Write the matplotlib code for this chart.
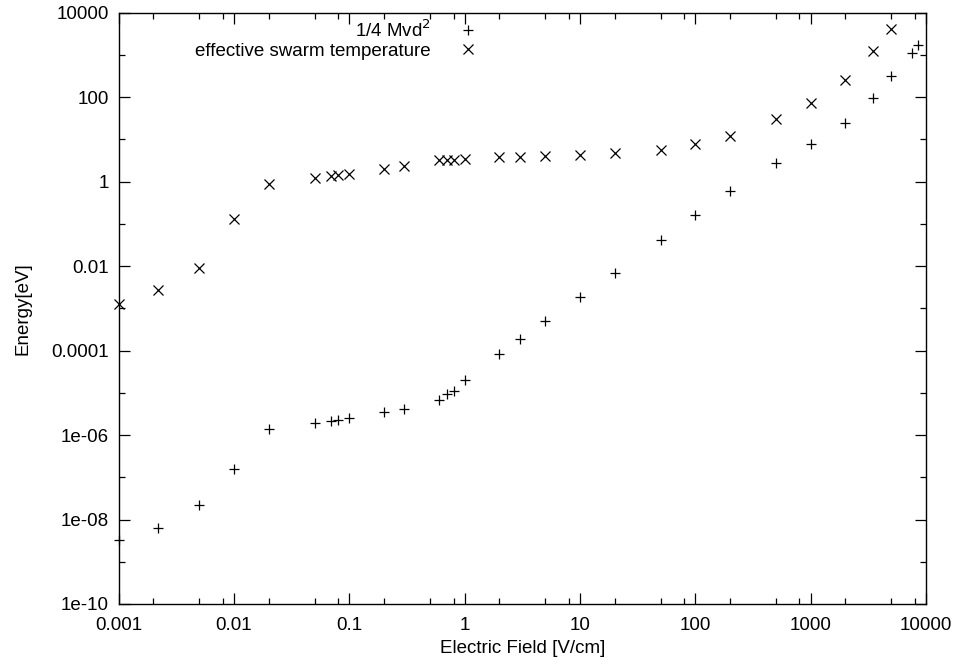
import numpy as np
from matplotlib import pyplot as plt
from matplotlib.ticker import FixedLocator, NullFormatter

plt.rcParams['font.family'] = ['Liberation Sans', 'DejaVu Sans']

# electric field values [V/cm]
field_t = [0.001, 0.0022, 0.005, 0.01, 0.02, 0.05, 0.07, 0.08, 0.1, 0.2, 0.3,
           0.6, 0.7, 0.8, 1, 2, 3, 5, 10, 20, 50, 100, 200, 500, 1000, 2000,
           3500, 5000]
# effective swarm temperature [eV]
temp = [1.26e-3, 2.7e-3, 8.9e-3, 0.13, 0.9, 1.2, 1.34, 1.4, 1.5, 2.0, 2.3,
        3.2, 3.2, 3.3, 3.5, 3.8, 3.9, 4.1, 4.3, 4.8, 5.7, 7.7, 11.9, 30, 72,
        250, 1220, 4100]

field_k = [0.001, 0.0022, 0.005, 0.01, 0.02, 0.05, 0.07, 0.08, 0.1, 0.2, 0.3,
           0.6, 0.7, 0.8, 1, 2, 3, 5, 10, 20, 50, 100, 200, 500, 1000, 2000,
           3500, 5000, 7500, 8500]
# 1/4 M vd^2 [eV]
kin = [3.2e-9, 6.3e-9, 2.2e-8, 1.6e-7, 1.4e-6, 1.9e-6, 2.2e-6, 2.3e-6, 2.6e-6,
       3.6e-6, 4.2e-6, 6.8e-6, 9.5e-6, 1.1e-5, 2.0e-5, 8.5e-5, 1.9e-4, 5.0e-4,
       1.9e-3, 6.8e-3, 0.041, 0.16, 0.59, 2.7, 7.7, 24, 97, 310, 1110, 1690]

fs = 13.5

fig = plt.figure(figsize=(9.56, 6.64), dpi=100)
ax = fig.add_axes([118.7/956, 1-604/664, (926-118.7)/956, (604-12.7)/664])

ax.plot(field_k, kin, 'k+', ms=7, mew=0.9, clip_on=False, label='1/4 Mvd$^2$')
ax.plot(field_t, temp, 'kx', ms=6.5, mew=0.9, clip_on=False,
        label='effective swarm temperature')

ax.set_xscale('log')
ax.set_yscale('log')
ax.set_xlim(0.001, 10000)
ax.set_ylim(1e-10, 10000)

xt = [0.001, 0.01, 0.1, 1, 10, 100, 1000, 10000]
ax.xaxis.set_major_locator(FixedLocator(xt))
ax.set_xticklabels(['0.001', '0.01', '0.1', '1', '10', '100', '1000', '10000'])
xm = [d*m for d in xt[:-1] for m in (2, 5, 8)]
ax.xaxis.set_minor_locator(FixedLocator(xm))
ax.xaxis.set_minor_formatter(NullFormatter())

yt = [1e-10, 1e-8, 1e-6, 1e-4, 1e-2, 1, 100, 10000]
ax.yaxis.set_major_locator(FixedLocator(yt))
ax.set_yticklabels(['1e-10', '1e-08', '1e-06', '0.0001', '0.01', '1', '100', '10000'])
ax.yaxis.set_minor_locator(FixedLocator([1e-9, 1e-7, 1e-5, 1e-3, 0.1, 10, 1000]))
ax.yaxis.set_minor_formatter(NullFormatter())

ax.tick_params(which='both', direction='in', top=True, right=True,
               labelsize=fs, width=0.9)
ax.tick_params(axis='x', pad=9)
ax.tick_params(axis='y', pad=7)
ax.tick_params(which='major', length=8)
ax.tick_params(which='minor', length=4)
for s in ax.spines.values():
    s.set_linewidth(1.0)

ax.set_xlabel('Electric Field [V/cm]', fontsize=fs, labelpad=5)
ax.set_ylabel('Energy[eV]', fontsize=fs, labelpad=14)

ax.legend(loc='upper right', frameon=False, fontsize=fs, markerfirst=False,
          handlelength=1.0, handletextpad=1.5, borderaxespad=0.0,
          labelspacing=0.1, bbox_to_anchor=(0.454, 1.0015))

fig.savefig('out.png', dpi=100)
